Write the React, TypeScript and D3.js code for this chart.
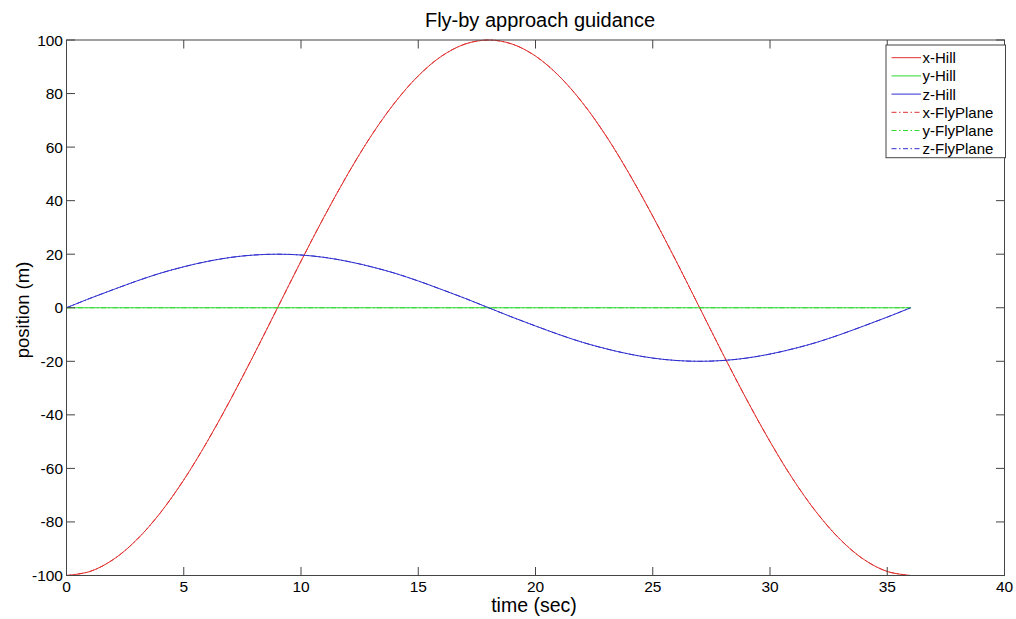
import React from "react";
import * as d3 from "d3";

// Sample times (sec)
const times: number[] = [
  0, 1, 2, 3, 4, 5, 6, 7, 8, 9, 10, 11, 12, 13, 14, 15, 16, 17, 18,
  19, 20, 21, 22, 23, 24, 25, 26, 27, 28, 29, 30, 31, 32, 33, 34, 35, 36,
];

// Hill-frame positions (m)
const xHill: number[] = [
  -100, -98.5, -94, -86.6, -76.6, -64.3, -50, -34.2, -17.4, 0, 17.4, 34.2, 50,
  64.3, 76.6, 86.6, 94, 98.5, 100, 98.5, 94, 86.6, 76.6, 64.3, 50, 34.2, 17.4,
  0, -17.4, -34.2, -50, -64.3, -76.6, -86.6, -94, -98.5, -100,
];
const yHill: number[] = [
  0, 0, 0, 0, 0, 0, 0, 0, 0, 0, 0, 0, 0, 0, 0, 0, 0, 0, 0, 0, 0, 0, 0, 0, 0, 0,
  0, 0, 0, 0, 0, 0, 0, 0, 0, 0, 0,
];
const zHill: number[] = [
  0, 3.5, 6.8, 10, 12.9, 15.3, 17.3, 18.8, 19.7, 20, 19.7, 18.8, 17.3, 15.3,
  12.9, 10, 6.8, 3.5, 0, -3.5, -6.8, -10, -12.9, -15.3, -17.3, -18.8, -19.7,
  -20, -19.7, -18.8, -17.3, -15.3, -12.9, -10, -6.8, -3.5, 0,
];

// Fly-plane frame positions (m), coincident with the Hill solution
const xFlyPlane: number[] = xHill.slice();
const yFlyPlane: number[] = yHill.slice();
const zFlyPlane: number[] = zHill.slice();

const xTicks: number[] = [0, 5, 10, 15, 20, 25, 30, 35, 40];
const yTicks: number[] = [-100, -80, -60, -40, -20, 0, 20, 40, 60, 80, 100];

const seriesNames: string[] = [
  "x-Hill",
  "y-Hill",
  "z-Hill",
  "x-FlyPlane",
  "y-FlyPlane",
  "z-FlyPlane",
];

const RED = "#e03030";
const GREEN = "#30d830";
const BLUE = "#3030d0";
const DASHDOT = "5,2.5,1.5,2.5";

const W = 1016;
const H = 619;
const M = { left: 66.5, right: 1004.5, top: 40, bottom: 575.5 };
const FONT = "'Liberation Sans', Arial, sans-serif";
const AXIS = "#444";
const TICK = 8.5;

export default function App() {
  const x = d3.scaleLinear().domain([0, 40]).range([M.left, M.right]);
  const y = d3.scaleLinear().domain([-100, 100]).range([M.bottom, M.top]);

  const line = d3
    .line<[number, number]>()
    .x((d) => x(d[0]))
    .y((d) => y(d[1]))
    .curve(d3.curveCatmullRom.alpha(0.5));

  const pts = (vals: number[]) =>
    times.map((t, i) => [t, vals[i]] as [number, number]);

  const hill = [
    { name: seriesNames[0], data: xHill, color: RED, dash: undefined },
    { name: seriesNames[1], data: yHill, color: GREEN, dash: undefined },
    { name: seriesNames[2], data: zHill, color: BLUE, dash: undefined },
  ];
  const fly = [
    { name: seriesNames[3], data: xFlyPlane, color: RED, dash: DASHDOT },
    { name: seriesNames[4], data: yFlyPlane, color: GREEN, dash: DASHDOT },
    { name: seriesNames[5], data: zFlyPlane, color: BLUE, dash: DASHDOT },
  ];
  const series = [...hill, ...fly];

  const legend = { x0: 886, x1: 1005.5, y0: 45, rowH: 18.2, first: 57.7 };

  return (
    <svg
      width={W}
      height={H}
      style={{ position: "absolute", left: 0, top: 0, background: "#fff" }}
      fontFamily={FONT}
    >
      <rect x={0} y={0} width={W} height={H} fill="#fff" />
      <defs>
        <clipPath id="plot-clip">
          <rect
            x={M.left}
            y={M.top - 1}
            width={M.right - M.left}
            height={M.bottom - M.top + 2}
          />
        </clipPath>
      </defs>

      {/* data lines: fly-plane traces lie under the coincident Hill traces */}
      <g clipPath="url(#plot-clip)">
        {[...fly, ...hill].map((s) => (
          <path
            key={s.name}
            d={line(pts(s.data)) || ""}
            fill="none"
            stroke={s.color}
            strokeWidth={1}
            strokeDasharray={s.dash}
          />
        ))}
      </g>

      {/* axes box */}
      <rect
        x={M.left}
        y={M.top}
        width={M.right - M.left}
        height={M.bottom - M.top}
        fill="none"
        stroke={AXIS}
        strokeWidth={1}
      />

      {/* x ticks */}
      {xTicks.map((t) => (
        <g key={"xt" + t}>
          <line x1={x(t)} x2={x(t)} y1={M.bottom} y2={M.bottom - TICK} stroke={AXIS} />
          <line x1={x(t)} x2={x(t)} y1={M.top} y2={M.top + TICK} stroke={AXIS} />
          <text
            x={x(t)}
            y={M.bottom + 16.5}
            textAnchor="middle"
            fontSize={15.5}
            fill="#000"
          >
            {t}
          </text>
        </g>
      ))}

      {/* y ticks */}
      {yTicks.map((t) => (
        <g key={"yt" + t}>
          <line x1={M.left} x2={M.left + TICK} y1={y(t)} y2={y(t)} stroke={AXIS} />
          <line x1={M.right} x2={M.right - TICK} y1={y(t)} y2={y(t)} stroke={AXIS} />
          <text
            x={M.left - 3.5}
            y={y(t) + 5.5}
            textAnchor="end"
            fontSize={15.5}
            fill="#000"
          >
            {t}
          </text>
        </g>
      ))}

      {/* title and axis labels */}
      <text x={540} y={26.5} textAnchor="middle" fontSize={20} fill="#000">
        Fly-by approach guidance
      </text>
      <text x={534} y={611.5} textAnchor="middle" fontSize={19.5} fill="#000">
        time (sec)
      </text>
      <text
        transform={`translate(28.5, 310) rotate(-90)`}
        textAnchor="middle"
        fontSize={18.5}
        fill="#000"
      >
        position (m)
      </text>

      {/* legend */}
      <rect
        x={legend.x0}
        y={legend.y0}
        width={legend.x1 - legend.x0}
        height={seriesNames.length * legend.rowH + 3.5}
        fill="#fff"
        stroke={AXIS}
      />
      {series.map((s, i) => {
        const ry = legend.first + i * legend.rowH;
        return (
          <g key={"lg" + s.name}>
            <line
              x1={891.5}
              x2={921}
              y1={ry}
              y2={ry}
              stroke={s.color}
              strokeWidth={1}
              strokeDasharray={s.dash}
            />
            <text x={922.5} y={ry + 5.5} fontSize={15} fill="#000">
              {s.name}
            </text>
          </g>
        );
      })}
    </svg>
  );
}
